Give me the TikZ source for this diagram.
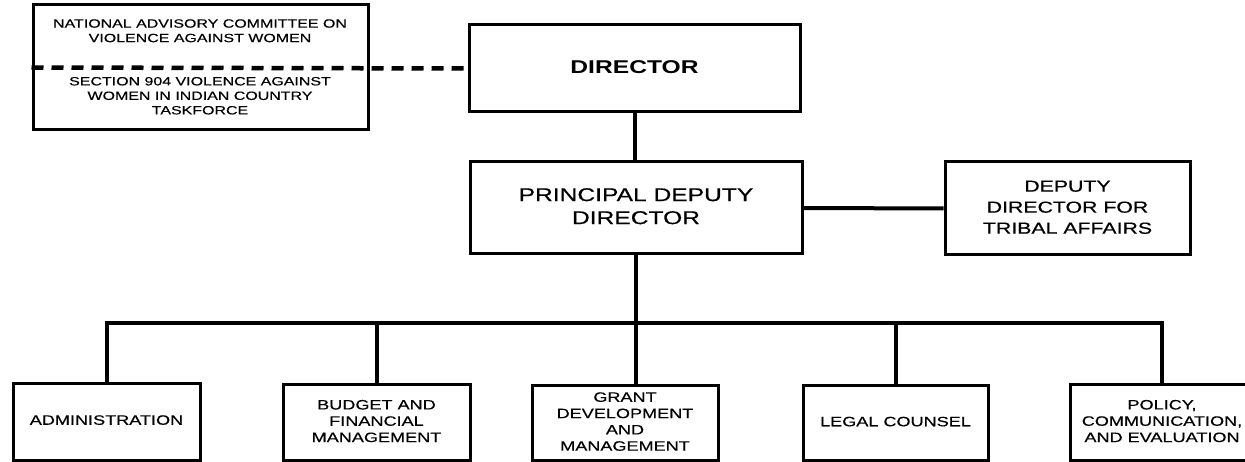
\documentclass[tikz,border=0pt]{standalone}
\usepackage{fontspec}
\setmainfont{Liberation Sans}
\newfontfamily\heavyfont{Liberation Sans}[FakeBold=0.35]
\usepackage{graphicx}
\newcommand{\stx}[1]{\scalebox{1.33}[1]{\begin{tabular}{@{}c@{}}#1\end{tabular}}}
\begin{document}
\begin{tikzpicture}[x=1pt,y=-1pt,
  box/.style={draw, line width=3pt, inner sep=0pt, rectangle, align=center},
  bigtxt/.style={font=\heavyfont\fontsize{18.5}{23}\selectfont},
  boldtxt/.style={font=\bfseries\fontsize{18.5}{23}\selectfont},
  deptxt/.style={font=\heavyfont\fontsize{16}{21}\selectfont},
  smalltxt/.style={font=\heavyfont\fontsize{13.6}{16.3}\selectfont},
  toptxt/.style={font=\heavyfont\fontsize{12}{14.5}\selectfont, inner sep=0pt},
  conn/.style={line width=4pt, line join=miter},
  dashconn/.style={line width=4.5pt, dash pattern=on 12pt off 8pt}]
\useasboundingbox (0,0) rectangle (1245,462);
\clip (0,0) rectangle (1245,462);
\fill[white] (0,0) rectangle (1245,462);

% top-left advisory box
\node[box, minimum width=335pt, minimum height=125pt] (nac) at (200.5,67.5) {};
\node[toptxt] (nat) at (200,32) {\stx{NATIONAL ADVISORY COMMITTEE ON\\VIOLENCE AGAINST WOMEN}};
\node[toptxt] (sec) at (200,97) {\stx{SECTION 904 VIOLENCE AGAINST\\WOMEN IN INDIAN COUNTRY\\TASKFORCE}};

% director
\node[box, minimum width=331pt, minimum height=87pt, boldtxt] (dir) at (634.5,68.5) {\stx{DIRECTOR}};
% principal deputy
\node[box, minimum width=332pt, minimum height=92pt, bigtxt] (pdd) at (636,208) {\stx{PRINCIPAL DEPUTY\\DIRECTOR}};
% tribal
\node[box, minimum width=245pt, minimum height=93pt, deptxt] (dep) at (1067.5,208.5) {\stx{DEPUTY\\DIRECTOR FOR\\TRIBAL AFFAIRS}};

% bottom row
\node[box, minimum width=187pt, minimum height=77pt, smalltxt] (adm) at (106.5,421.5) {\stx{ADMINISTRATION}};
\node[box, minimum width=187pt, minimum height=76pt, smalltxt] (bud) at (376.5,422.5) {\stx{BUDGET AND\\FINANCIAL\\MANAGEMENT}};
\node[box, minimum width=186pt, minimum height=75pt, smalltxt] (gra) at (625,423) {\stx{GRANT\\DEVELOPMENT\\AND\\MANAGEMENT}};
\node[box, minimum width=185pt, minimum height=75pt, smalltxt] (leg) at (895.5,423) {\stx{LEGAL COUNSEL}};
\node[box, minimum width=184pt, minimum height=76pt, smalltxt] (pol) at (1162,422.5) {\stx{POLICY,\\COMMUNICATION,\\AND EVALUATION}};

% connectors
\coordinate (bus) at (636,323);
\draw[dashconn] (nac.west) -- (dir.west);
\draw[conn] (dir.south) -- (dir.south |- pdd.north);
\draw[conn] (pdd.east) -- (dep.west);
\draw[conn] (pdd.south) -- (pdd.south |- gra.north);
\draw[conn] (adm.north) |- (pol.north |- bus) -- (pol.north);
\draw[conn] (bud.north) -- (bud.north |- bus);
\draw[conn] (leg.north) -- (leg.north |- bus);
\end{tikzpicture}
\end{document}
